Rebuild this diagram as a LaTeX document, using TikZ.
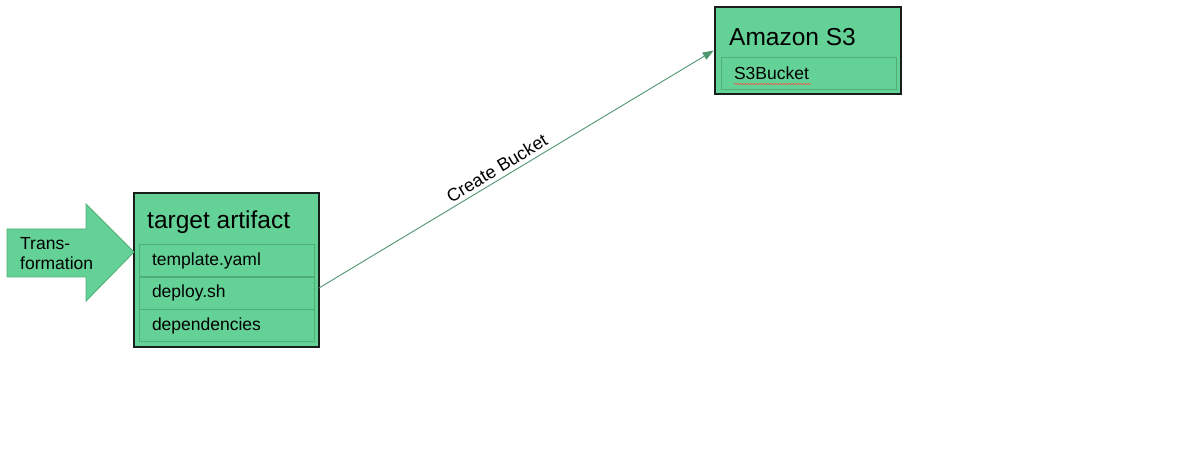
\documentclass[tikz,border=0pt]{standalone}
\usepackage{fontspec}
\setmainfont{Liberation Sans}
\usetikzlibrary{arrows.meta,decorations.pathmorphing}
\definecolor{boxgreen}{RGB}{100,210,150}
\definecolor{rowline}{RGB}{80,175,120}
\definecolor{linegreen}{RGB}{78,150,110}
\definecolor{darkline}{RGB}{25,30,28}
\begin{document}
\begin{tikzpicture}[x=1pt,y=-1pt,
  outerbox/.style={draw=darkline,line width=2.6pt,fill=boxgreen,rectangle,inner sep=0pt},
  rowbox/.style={draw=rowline,line width=0.9pt,fill=boxgreen,rectangle,inner xsep=13pt,inner ysep=0pt,text width=149pt,minimum height=32pt,font=\fontsize{17.5}{20}\selectfont,anchor=center},
  titletext/.style={inner sep=0pt,anchor=west,font=\fontsize{24.5}{28}\selectfont},
  conn/.style={draw=linegreen,line width=0.9pt,-{Triangle[length=11pt,width=8pt]}},
  lbl/.style={font=\fontsize{18}{20}\selectfont,inner sep=0pt}
]
\useasboundingbox (0,0) rectangle (1188,454);
% target artifact
\node[outerbox,minimum width=185pt,minimum height=154pt] (ta) at (226.5,270) {};
\node[titletext] (tatitle) at (147,222) {target artifact};
\node[rowbox] (r1) at (226.5,260.5) {\raisebox{-1.5pt}{template.yaml}};
\node[rowbox] (r2) at (226.5,293) {\raisebox{-1.5pt}{deploy.sh}};
\node[rowbox] (r3) at (226.5,325.5) {\raisebox{-1.5pt}{dependencies}};
% Amazon S3
\node[outerbox,minimum width=186pt,minimum height=87pt] (s3) at (808,50.5) {};
\node[titletext] (s3title) at (729,37) {Amazon S3};
\node[rowbox,text width=149pt,minimum width=175pt] (b1) at (808.5,73) {S3Bucket};
\draw[red!70,line width=0.5pt,decorate,decoration={snake,amplitude=0.8pt,segment length=3pt}] (734,84) -- (811,84);
% transformation block arrow
\draw[draw=rowline,line width=0.9pt,fill=boxgreen] (7,229) -- (86,229) -- (86,204) -- (134,252) -- (86,301) -- (86,277) -- (7,277) -- cycle;
\node[lbl,anchor=west,align=left,font=\fontsize{17.5}{20}\selectfont] (tr) at (20,254) {Trans-\\formation};
% connector
\coordinate (taout) at (319,288);
\draw[conn] (taout) -- node[lbl,sloped,above=4pt,pos=0.465] (cb) {Create Bucket} (s3.west);
\end{tikzpicture}
\end{document}
